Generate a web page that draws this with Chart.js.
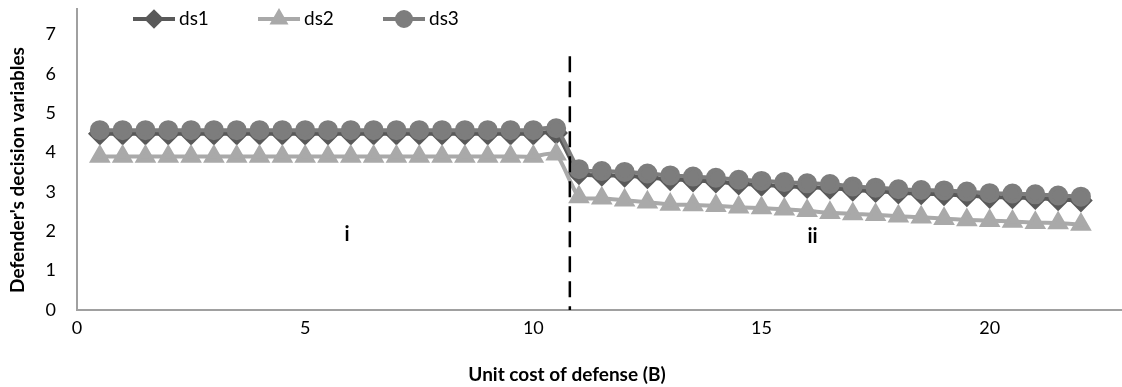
<!DOCTYPE html>
<html>
<head>
<meta charset="utf-8">
<script src="https://cdn.jsdelivr.net/npm/chart.js@4.4.1/dist/chart.umd.min.js"></script>
<style>
  html, body { margin: 0; padding: 0; background: #fff; }
  #wrap { width: 1122px; height: 387px; position: relative; }
</style>
</head>
<body>
<div id="wrap"><canvas id="myChart"></canvas></div>
<script>
// unit cost of defense (B)
const costs = [
  0.5, 1, 1.5, 2, 2.5, 3, 3.5, 4, 4.5, 5, 5.5, 6, 6.5, 7, 7.5, 8, 8.5, 9, 9.5, 10, 10.5,
  11, 11.5, 12, 12.5, 13, 13.5, 14, 14.5, 15, 15.5, 16, 16.5, 17, 17.5, 18, 18.5, 19, 19.5,
  20, 20.5, 21, 21.5, 22
];
const ds1 = [
  4.48, 4.48, 4.48, 4.48, 4.48, 4.48, 4.48, 4.48, 4.48, 4.48, 4.48, 4.48, 4.48, 4.48, 4.48, 4.48, 4.48, 4.48, 4.48, 4.48, 4.5,
  3.47, 3.43, 3.41, 3.37, 3.32, 3.29, 3.26, 3.21, 3.18, 3.15, 3.12, 3.1, 3.05, 3.02, 2.98, 2.96, 2.94, 2.91,
  2.87, 2.86, 2.84, 2.81, 2.78
];
const ds2 = [
  3.9, 3.9, 3.9, 3.9, 3.9, 3.9, 3.9, 3.9, 3.9, 3.9, 3.9, 3.9, 3.9, 3.9, 3.9, 3.9, 3.9, 3.9, 3.9, 3.9, 3.96,
  2.87, 2.84, 2.79, 2.74, 2.68, 2.67, 2.65, 2.61, 2.59, 2.56, 2.52, 2.47, 2.44, 2.42, 2.38, 2.36, 2.32, 2.29,
  2.27, 2.25, 2.22, 2.21, 2.17
];
const ds3 = [
  4.57, 4.57, 4.57, 4.57, 4.57, 4.57, 4.57, 4.57, 4.57, 4.57, 4.57, 4.57, 4.57, 4.57, 4.57, 4.57, 4.57, 4.57, 4.57, 4.57, 4.62,
  3.58, 3.53, 3.51, 3.47, 3.42, 3.39, 3.36, 3.31, 3.28, 3.25, 3.22, 3.2, 3.14, 3.11, 3.07, 3.05, 3.04, 3.01,
  2.97, 2.96, 2.94, 2.91, 2.88
];
const seriesNames = ["ds1", "ds2", "ds3"];
const xTicks = [0, 5, 10, 15, 20];
const yTicks = [0, 1, 2, 3, 4, 5, 6, 7];
const regionLabels = [
  { text: "i", x: 5.92, y: 1.93 },
  { text: "ii", x: 16.12, y: 1.86 },
];
const breakCost = 10.8;
const breakTop = 6.45;

const FONT = "Lato, 'Open Sans', sans-serif";

const toPoints = (ys) => costs.map((x, i) => ({ x: x, y: ys[i] }));

// legend, axis titles, dashed break line and region labels
const extras = {
  id: "extras",
  afterDraw(chart) {
    const ctx = chart.ctx;
    const xs = chart.scales.x;
    const ys = chart.scales.y;
    ctx.save();

    // dashed vertical line
    ctx.strokeStyle = "#000";
    ctx.lineWidth = 2.5;
    ctx.setLineDash([16, 9]);
    ctx.beginPath();
    ctx.moveTo(xs.getPixelForValue(breakCost), ys.getPixelForValue(breakTop));
    ctx.lineTo(xs.getPixelForValue(breakCost), ys.getPixelForValue(0));
    ctx.stroke();
    ctx.setLineDash([]);

    // region labels
    ctx.fillStyle = "#000";
    ctx.font = "bold 20px " + FONT;
    ctx.textAlign = "center";
    ctx.textBaseline = "middle";
    regionLabels.forEach((r) => {
      ctx.fillText(r.text, xs.getPixelForValue(r.x), ys.getPixelForValue(r.y));
    });

    // axis titles
    ctx.font = "bold 19px " + FONT;
    ctx.fillText("Unit cost of defense (B)", 567, 375);
    ctx.save();
    ctx.translate(18, 170);
    ctx.rotate(-Math.PI / 2);
    ctx.fillText("Defender's decision variables", 0, 0);
    ctx.restore();

    // legend
    const legendY = 19;
    chart.data.datasets.forEach((d, i) => {
      const x0 = 133 + i * 125;
      ctx.strokeStyle = d.borderColor;
      ctx.lineWidth = 4;
      ctx.beginPath();
      ctx.moveTo(x0, legendY);
      ctx.lineTo(x0 + 42, legendY);
      ctx.stroke();
      ctx.fillStyle = d.backgroundColor;
      ctx.strokeStyle = d.borderColor;
      Chart.helpers.drawPoint(ctx, {
        pointStyle: d.pointStyle,
        radius: d.legendRadius,
        rotation: 0,
        borderWidth: 1,
      }, x0 + 21, legendY);
      ctx.fillStyle = "#000";
      ctx.font = "19px " + FONT;
      ctx.textAlign = "left";
      ctx.fillText(d.label, x0 + 46, legendY);
    });

    ctx.restore();
  },
};

const ctx = document.getElementById("myChart").getContext("2d");
const myChart = new Chart(ctx, {
  type: "line",
  data: {
    datasets: [
      {
        label: seriesNames[0],
        data: toPoints(ds1),
        borderColor: "#595959",
        backgroundColor: "#595959",
        borderWidth: 4,
        pointStyle: "rectRot",
        pointRadius: 9,
        legendRadius: 7,
        order: 2,
      },
      {
        label: seriesNames[1],
        data: toPoints(ds2),
        borderColor: "#a9a9a9",
        backgroundColor: "#a9a9a9",
        borderWidth: 4,
        pointStyle: "triangle",
        pointRadius: 8.5,
        legendRadius: 7,
        order: 1,
      },
      {
        label: seriesNames[2],
        data: toPoints(ds3),
        borderColor: "#7d7d7d",
        backgroundColor: "#7d7d7d",
        borderWidth: 4,
        pointStyle: "circle",
        pointRadius: 8,
        legendRadius: 7,
        order: 0,
      },
    ],
  },
  options: {
    responsive: true,
    maintainAspectRatio: false,
    animation: false,
    layout: { autoPadding: false, padding: { top: 9, right: 0, left: 0, bottom: 0 } },
    elements: {
      line: { tension: 0.2 },
      point: { borderWidth: 1, hoverRadius: 8 },
    },
    plugins: {
      legend: { display: false },
      tooltip: { enabled: false },
    },
    scales: {
      x: {
        type: "linear",
        min: 0,
        max: 22.9,
        grid: { display: false, drawTicks: false },
        border: { display: true, color: "#a0a0a0", width: 2 },
        afterBuildTicks: (axis) => {
          axis.ticks = xTicks.map((v) => ({ value: v }));
        },
        afterFit: (axis) => {
          axis.height = 77;
          axis.paddingLeft = 0;
          axis.paddingRight = 0;
        },
        ticks: {
          padding: 7,
          color: "#000",
          font: { family: FONT, size: 18 },
          maxRotation: 0,
        },
      },
      y: {
        min: 0,
        max: 7.65,
        grid: { display: false, drawTicks: false },
        border: { display: true, color: "#a0a0a0", width: 2 },
        afterBuildTicks: (axis) => {
          axis.ticks = yTicks.map((v) => ({ value: v }));
        },
        afterFit: (axis) => {
          axis.width = 77;
          axis.paddingTop = 0;
          axis.paddingBottom = 0;
        },
        ticks: {
          padding: 21,
          color: "#000",
          font: { family: FONT, size: 18 },
        },
      },
    },
  },
  plugins: [extras],
});
</script>
</body>
</html>
